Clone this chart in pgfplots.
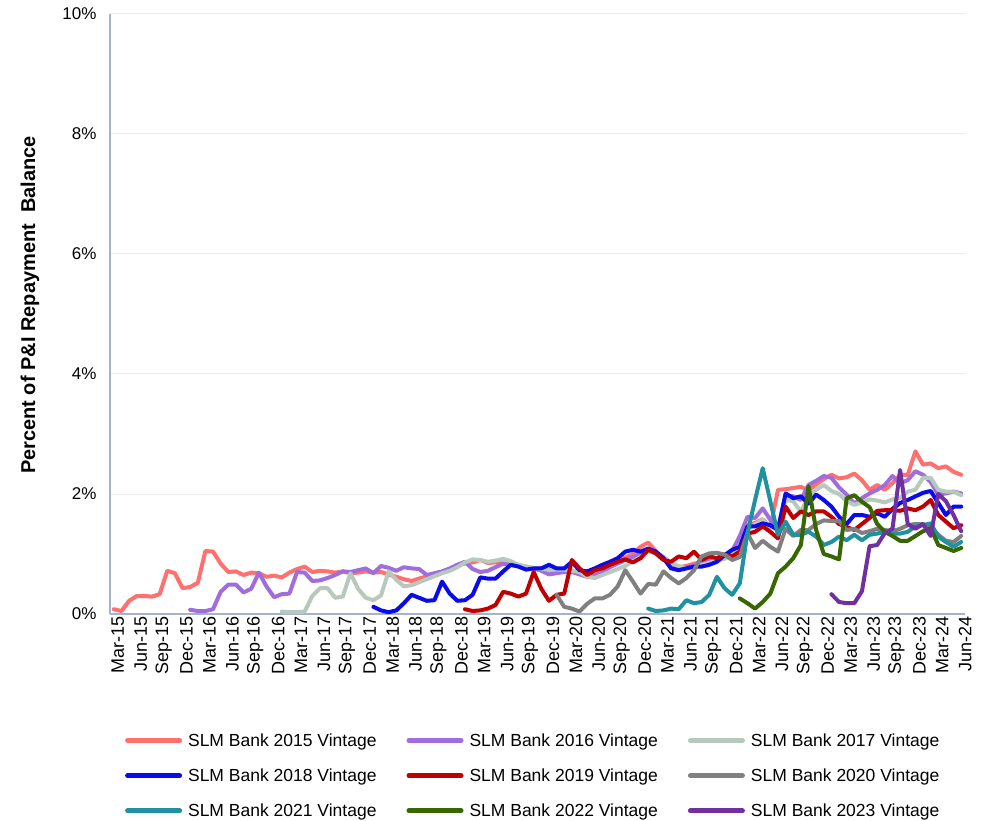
\documentclass[border=0pt]{standalone}
\usepackage{pgfplots}
\pgfplotsset{compat=1.18}
\usepackage{fontspec}
\setmainfont{Liberation Sans}
\definecolor{c15}{RGB}{255,112,110}
\definecolor{c16}{RGB}{160,110,220}
\definecolor{c17}{RGB}{183,201,188}
\definecolor{c18}{RGB}{10,10,235}
\definecolor{c19}{RGB}{192,0,0}
\definecolor{c20}{RGB}{128,128,128}
\definecolor{c21}{RGB}{32,145,160}
\definecolor{c22}{RGB}{56,102,0}
\definecolor{c23}{RGB}{112,48,160}
\definecolor{axisc}{RGB}{165,178,200}
\definecolor{gridc}{RGB}{235,235,235}
\begin{document}
\begin{tikzpicture}
\useasboundingbox (0,0) rectangle (986pt,820pt);
\begin{axis}[
  at={(110pt,206pt)}, anchor=south west,
  scale only axis, width=855pt, height=600pt,
  xmin=-0.5, xmax=111.5, ymin=0, ymax=10,
  axis lines=left,
  axis line style={-, draw=axisc, line width=1.4pt},
  major tick length=0pt,
  ymajorgrids, grid style={draw=gridc, line width=1pt},
  ytick={0,2,4,6,8,10},
  yticklabels={0\%,2\%,4\%,6\%,8\%,10\%},
  xtick={0,3,...,111},
  xticklabels={Mar-15,Jun-15,Sep-15,Dec-15,Mar-16,Jun-16,Sep-16,Dec-16,Mar-17,Jun-17,Sep-17,Dec-17,Mar-18,Jun-18,Sep-18,Dec-18,Mar-19,Jun-19,Sep-19,Dec-19,Mar-20,Jun-20,Sep-20,Dec-20,Mar-21,Jun-21,Sep-21,Dec-21,Mar-22,Jun-22,Sep-22,Dec-22,Mar-23,Jun-23,Sep-23,Dec-23,Mar-24,Jun-24},
  yticklabel style={font=\fontsize{17}{20}\selectfont, anchor=east, xshift=-10pt},
  xticklabel style={font=\fontsize{18}{21}\selectfont, rotate=90, anchor=east, inner sep=2pt, yshift=-4pt},
  ylabel={\textbf{Percent of P\&I Repayment~~Balance}},
  ylabel style={font=\fontsize{20}{23}\selectfont, at={(rel axis cs:0,0.515)}, anchor=center, yshift=80pt},
  legend columns=3,
  legend cell align=left,
  legend style={at={(rel axis cs:0.495,-0.192)}, anchor=north, draw=none, fill=none,
    font=\fontsize{17.5}{20}\selectfont,
    /tikz/every even column/.append style={column sep=28pt},
    /tikz/every odd column/.append style={column sep=4pt},
    row sep=17pt},
  legend image code/.code={\draw[#1, line width=5pt, line cap=round] (0pt,0pt) -- (52pt,0pt);},
  every axis plot/.append style={line width=4pt, line join=round, line cap=round},
]
\addplot[c15] table {
x y
0 0.08
1 0.05
2 0.22
3 0.30
4 0.30
5 0.29
6 0.33
7 0.72
8 0.68
9 0.43
10 0.45
11 0.52
12 1.05
13 1.04
14 0.84
15 0.70
16 0.71
17 0.65
18 0.69
19 0.68
20 0.62
21 0.64
22 0.61
23 0.69
24 0.75
25 0.79
26 0.70
27 0.72
28 0.71
29 0.69
30 0.71
31 0.68
32 0.69
33 0.71
34 0.69
35 0.70
36 0.66
37 0.62
38 0.58
39 0.55
40 0.59
41 0.63
42 0.66
43 0.70
44 0.74
45 0.82
46 0.84
47 0.86
48 0.90
49 0.85
50 0.86
51 0.84
52 0.84
53 0.82
54 0.79
55 0.76
56 0.76
57 0.74
58 0.74
59 0.72
60 0.72
61 0.68
62 0.64
63 0.68
64 0.75
65 0.82
66 0.88
67 0.94
68 1.00
69 1.12
70 1.19
71 1.05
72 0.92
73 0.82
74 0.78
75 0.80
76 0.84
77 0.86
78 0.90
79 0.93
80 0.98
81 1.05
82 1.25
83 1.48
84 1.52
85 1.58
86 1.45
87 2.07
88 2.08
89 2.10
90 2.12
91 2.06
92 2.16
93 2.25
94 2.32
95 2.26
96 2.28
97 2.34
98 2.23
99 2.07
100 2.15
101 2.07
102 2.18
103 2.32
104 2.32
105 2.71
106 2.49
107 2.51
108 2.43
109 2.46
110 2.37
111 2.32
};
\addlegendentry{SLM Bank 2015 Vintage}
\addplot[c16] table {
x y
10 0.07
11 0.05
12 0.05
13 0.08
14 0.37
15 0.49
16 0.49
17 0.36
18 0.42
19 0.69
20 0.46
21 0.28
22 0.33
23 0.34
24 0.70
25 0.69
26 0.55
27 0.56
28 0.60
29 0.65
30 0.71
31 0.70
32 0.73
33 0.76
34 0.68
35 0.80
36 0.77
37 0.72
38 0.78
39 0.76
40 0.75
41 0.65
42 0.68
43 0.71
44 0.76
45 0.82
46 0.87
47 0.75
48 0.70
49 0.72
50 0.78
51 0.84
52 0.82
53 0.80
54 0.78
55 0.76
56 0.72
57 0.66
58 0.68
59 0.70
60 0.70
61 0.66
62 0.62
63 0.64
64 0.70
65 0.78
66 0.84
67 0.90
68 0.95
69 1.00
70 1.05
71 1.02
72 0.95
73 0.85
74 0.78
75 0.78
76 0.80
77 0.85
78 0.88
79 0.90
80 0.95
81 1.05
82 1.30
83 1.62
84 1.60
85 1.76
86 1.57
87 1.43
88 1.98
89 1.96
90 1.90
91 2.15
92 2.22
93 2.30
94 2.27
95 2.11
96 1.99
97 1.84
98 1.93
99 2.01
100 2.07
101 2.15
102 2.30
103 2.18
104 2.23
105 2.38
106 2.32
107 2.20
108 1.99
109 2.01
110 2.04
111 2.01
};
\addlegendentry{SLM Bank 2016 Vintage}
\addplot[c17] table {
x y
22 0.04
23 0.03
24 0.03
25 0.04
26 0.30
27 0.43
28 0.43
29 0.27
30 0.29
31 0.68
32 0.42
33 0.27
34 0.23
35 0.31
36 0.71
37 0.57
38 0.46
39 0.48
40 0.53
41 0.58
42 0.63
43 0.68
44 0.72
45 0.78
46 0.86
47 0.91
48 0.90
49 0.87
50 0.89
51 0.92
52 0.88
53 0.82
54 0.79
55 0.77
56 0.75
57 0.74
58 0.74
59 0.74
60 0.72
61 0.70
62 0.62
63 0.60
64 0.65
65 0.70
66 0.75
67 0.80
68 0.88
69 0.95
70 1.05
71 1.02
72 0.95
73 0.85
74 0.80
75 0.76
76 0.78
77 0.82
78 0.85
79 0.90
80 0.92
81 0.98
82 1.15
83 1.40
84 1.50
85 1.57
86 1.46
87 1.40
88 1.90
89 1.88
90 1.70
91 1.96
92 2.07
93 2.15
94 2.05
95 2.00
96 1.88
97 1.82
98 1.86
99 1.91
100 1.89
101 1.86
102 1.91
103 1.93
104 2.04
105 2.07
106 2.27
107 2.27
108 2.07
109 2.04
110 2.04
111 1.98
};
\addlegendentry{SLM Bank 2017 Vintage}
\addplot[c18] table {
x y
34 0.12
35 0.06
36 0.03
37 0.06
38 0.18
39 0.32
40 0.27
41 0.22
42 0.23
43 0.54
44 0.34
45 0.22
46 0.23
47 0.32
48 0.61
49 0.59
50 0.59
51 0.71
52 0.82
53 0.79
54 0.74
55 0.76
56 0.76
57 0.82
58 0.76
59 0.76
60 0.87
61 0.73
62 0.71
63 0.76
64 0.82
65 0.87
66 0.93
67 1.04
68 1.07
69 1.04
70 1.09
71 1.04
72 0.93
73 0.76
74 0.73
75 0.76
76 0.79
77 0.79
78 0.82
79 0.87
80 0.98
81 1.07
82 1.12
83 1.46
84 1.46
85 1.51
86 1.48
87 1.40
88 2.01
89 1.93
90 1.96
91 1.84
92 1.99
93 1.90
94 1.79
95 1.62
96 1.50
97 1.65
98 1.65
99 1.62
100 1.68
101 1.62
102 1.75
103 1.85
104 1.90
105 1.96
106 2.02
107 2.05
108 1.85
109 1.65
110 1.79
111 1.79
};
\addlegendentry{SLM Bank 2018 Vintage}
\addplot[c19] table {
x y
46 0.08
47 0.05
48 0.06
49 0.09
50 0.15
51 0.37
52 0.34
53 0.29
54 0.34
55 0.70
56 0.42
57 0.22
58 0.32
59 0.34
60 0.90
61 0.76
62 0.65
63 0.73
64 0.76
65 0.82
66 0.87
67 0.91
68 0.86
69 0.93
70 1.07
71 1.01
72 0.90
73 0.87
74 0.96
75 0.93
76 1.04
77 0.90
78 0.96
79 0.93
80 0.99
81 0.96
82 1.04
83 1.34
84 1.37
85 1.46
86 1.37
87 1.26
88 1.79
89 1.60
90 1.71
91 1.65
92 1.71
93 1.71
94 1.62
95 1.50
96 1.45
97 1.40
98 1.50
99 1.60
100 1.72
101 1.73
102 1.73
103 1.72
104 1.76
105 1.73
106 1.79
107 1.90
108 1.65
109 1.54
110 1.43
111 1.48
};
\addlegendentry{SLM Bank 2019 Vintage}
\addplot[c20] table {
x y
58 0.32
59 0.12
60 0.09
61 0.04
62 0.17
63 0.26
64 0.26
65 0.32
66 0.46
67 0.73
68 0.54
69 0.34
70 0.50
71 0.49
72 0.71
73 0.60
74 0.51
75 0.60
76 0.73
77 0.96
78 1.01
79 1.02
80 0.99
81 0.90
82 0.95
83 1.35
84 1.10
85 1.22
86 1.12
87 1.04
88 1.42
89 1.30
90 1.40
91 1.40
92 1.50
93 1.56
94 1.55
95 1.55
96 1.40
97 1.42
98 1.35
99 1.38
100 1.42
101 1.40
102 1.38
103 1.42
104 1.48
105 1.50
106 1.50
107 1.45
108 1.32
109 1.22
110 1.20
111 1.30
};
\addlegendentry{SLM Bank 2020 Vintage}
\addplot[c21] table {
x y
70 0.09
71 0.05
72 0.06
73 0.09
74 0.08
75 0.23
76 0.18
77 0.20
78 0.32
79 0.62
80 0.43
81 0.32
82 0.51
83 1.35
84 1.90
85 2.43
86 1.88
87 1.32
88 1.54
89 1.32
90 1.32
91 1.37
92 1.29
93 1.15
94 1.20
95 1.29
96 1.23
97 1.32
98 1.23
99 1.32
100 1.34
101 1.37
102 1.34
103 1.34
104 1.37
105 1.46
106 1.48
107 1.51
108 1.29
109 1.20
110 1.12
111 1.20
};
\addlegendentry{SLM Bank 2021 Vintage}
\addplot[c22] table {
x y
82 0.26
83 0.18
84 0.09
85 0.20
86 0.34
87 0.68
88 0.79
89 0.93
90 1.15
91 2.13
92 1.40
93 1.00
94 0.96
95 0.91
96 1.93
97 1.98
98 1.87
99 1.78
100 1.50
101 1.37
102 1.30
103 1.22
104 1.22
105 1.30
106 1.38
107 1.43
108 1.15
109 1.10
110 1.05
111 1.10
};
\addlegendentry{SLM Bank 2022 Vintage}
\addplot[c23] table {
x y
94 0.33
95 0.20
96 0.18
97 0.18
98 0.38
99 1.13
100 1.15
101 1.35
102 1.42
103 2.40
104 1.50
105 1.42
106 1.50
107 1.30
108 2.00
109 1.88
110 1.65
111 1.38
};
\addlegendentry{SLM Bank 2023 Vintage}
\end{axis}
\end{tikzpicture}
\end{document}
